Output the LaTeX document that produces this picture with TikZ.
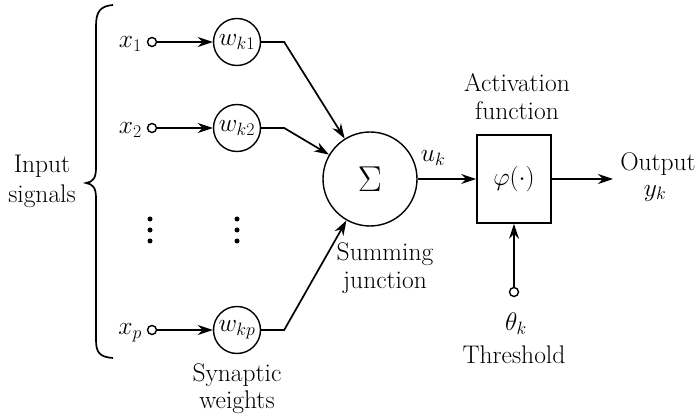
\RequirePackage{fix-cm}
\documentclass[tikz,border=0pt]{standalone}
\usetikzlibrary{arrows.meta}
\begin{document}
\begin{tikzpicture}[x=1pt,y=-1pt,
  every node/.style={font=\fontsize{25.5}{30}\selectfont, inner sep=0pt},
  wire/.style={line width=1.7pt},
  arr/.style={wire, -{Stealth[length=15pt,width=10pt]}},
  term/.style={circle, draw, line width=1.4pt, minimum size=9pt},
  weight/.style={circle, draw, line width=1.4pt, minimum size=47pt},
  dot/.style={circle, fill, inner sep=0pt, minimum size=5pt},
  lbl/.style={align=center}]
\useasboundingbox (0,0) rectangle (698,419);

% input brace
\draw[line width=1.7pt] (113,5) .. controls (100,6) and (96,12) .. (96,26) -- (96,168)
  .. controls (96,178) and (93,182) .. (86,183) .. controls (93,184) and (96,188) .. (96,198)
  -- (96,340) .. controls (96,353) and (100,357) .. (113,358);
\node[lbl] (inp) at (42,181) {Input\\[0pt]signals};

% input terminals
\node[term] (t1) at (152,42) {};
\node[term] (t2) at (152,128) {};
\node[term] (tp) at (152,330) {};
\node[anchor=east] (x1) at (142,44) {$x_1$};
\node[anchor=east] (x2) at (142,130) {$x_2$};
\node[anchor=east] (xp) at (142,333) {$x_p$};

% synaptic weights
\node[weight] (w1) at (237,42) {$w_{k1}$};
\node[weight] (w2) at (237,128) {$w_{k2}$};
\node[weight] (wp) at (237,330) {$w_{kp}$};
\foreach \i/\y in {1/219,2/230,3/241} {
  \node[dot] (da\i) at (150,\y) {};
  \node[dot] (db\i) at (237,\y) {};
}
\node[lbl] (syn) at (237,389) {Synaptic\\[-3pt]weights};

% summing junction
\node[circle, draw, line width=1.4pt, minimum size=94pt] (sum) at (370,179)
  {\fontsize{36}{36}\selectfont$\Sigma$};
\node[lbl] (sj) at (385,268) {Summing\\[-2pt]junction};

% activation function
\node[draw, line width=1.7pt, minimum width=74pt, minimum height=88pt] (act) at (514,179)
  {$\varphi(\cdot)$};
\node[lbl] (af) at (517,97) {Activation\\[-2pt]function};

% threshold
\node[term] (th) at (514,292) {};
\node (thk) at (516,324) {$\theta_k$};
\node (thl) at (514,355) {Threshold};

% output
\coordinate (out) at (613,179);
\node (outl) at (658,164) {Output};
\node (yk) at (655,193) {$y_k$};
\node (uk) at (433,158) {$u_k$};

% connections
\draw[arr] (t1) -- (w1);
\draw[arr] (t2) -- (w2);
\draw[arr] (tp) -- (wp);
\draw[arr] (w1.east) -- ++(23,0) -- (sum);
\draw[arr] (w2.east) -- ++(23,0) -- (sum);
\draw[arr] (wp.east) -- ++(23,0) -- (sum);
\draw[arr] (sum) -- (act);
\draw[arr] (act) -- (out);
\draw[arr] (th) -- (act);
\end{tikzpicture}
\end{document}
